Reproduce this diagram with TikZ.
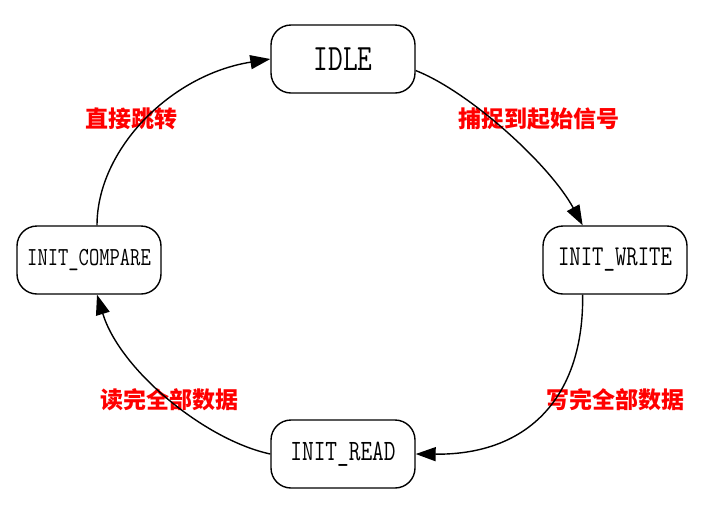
\documentclass[tikz,border=0pt]{standalone}
\usepackage{fontspec}
\usetikzlibrary{arrows.meta}
\newfontfamily\cjk{Noto Sans CJK SC}
\newcommand\stxt[2]{\scalebox{1}[1.3]{\fontsize{#1}{#1}\selectfont\ttfamily #2}}
\tikzset{
  state/.style={draw, line width=1.4pt, rounded corners=20pt, minimum width=144pt, minimum height=68pt, inner sep=0pt, fill=white},
  trans/.style={line width=1.4pt, -{Triangle[length=20pt,width=14pt]}},
  lab/.style={text=red, font=\cjk\bfseries\fontsize{23}{23}\selectfont, inner sep=0pt},
}
\begin{document}
\begin{tikzpicture}[x=1pt,y=-1pt]
\useasboundingbox (0,0) rectangle (722,507);
\node[state] (idle) at (343,59) {\stxt{28.6}{IDLE}};
\node[state] (cmp) at (89,260) {\stxt{20}{INIT\_COMPARE}};
\node[state] (wr) at (615,260) {\stxt{22.1}{INIT\_WRITE}};
\node[state] (rd) at (343,454) {\stxt{22.7}{INIT\_READ}};
\node[lab] (l1) at (131,119) {直接跳转};
\node[lab] (l2) at (539,119) {捕捉到起始信号};
\node[lab] (l3) at (169,400) {读完全部数据};
\node[lab] (l4) at (615,400) {写完全部数据};
\draw[trans] (idle.-9) .. controls (470,92) and (550,165) .. (wr.133);
\draw[trans] (wr.-133) .. controls (584,395) and (530,455) .. (rd.east);
\draw[trans] (rd.west) .. controls (205,440) and (120,370) .. (cmp.-77);
\draw[trans] (cmp.77) .. controls (97,150) and (170,75) .. (idle.west);
\end{tikzpicture}
\end{document}
